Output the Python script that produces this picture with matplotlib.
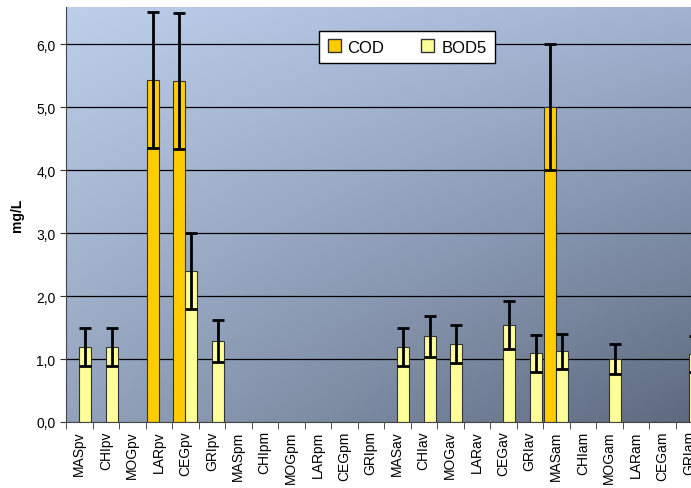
import matplotlib.pyplot as plt
import numpy as np
from matplotlib.patches import Patch

plt.rcParams["font.family"] = ["Liberation Sans", "DejaVu Sans"]

labels = ["MASpv", "CHIpv", "MOGpv", "LARpv", "CEGpv", "GRIpv",
          "MASpm", "CHIpm", "MOGpm", "LARpm", "CEGpm", "GRIpm",
          "MASav", "CHIav", "MOGav", "LARav", "CEGav", "GRIav",
          "MASam", "CHIam", "MOGam", "LARam", "CEGam", "GRIam"]

cod = [0, 0, 0, 5.43, 5.41, 0,
       0, 0, 0, 0, 0, 0,
       0, 0, 0, 0, 0, 0,
       5.0, 0, 0, 0, 0, 0]
cod_err = [0, 0, 0, 1.08, 1.08, 0,
           0, 0, 0, 0, 0, 0,
           0, 0, 0, 0, 0, 0,
           1.0, 0, 0, 0, 0, 0]
bod5 = [1.19, 1.19, 0, 0, 2.40, 1.29,
        0, 0, 0, 0, 0, 0,
        1.19, 1.36, 1.24, 0, 1.54, 1.09,
        1.12, 0, 1.0, 0, 0, 1.08]
bod5_err = [0.3, 0.3, 0, 0, 0.6, 0.33,
            0, 0, 0, 0, 0, 0,
            0.3, 0.33, 0.3, 0, 0.38, 0.29,
            0.28, 0, 0.24, 0, 0, 0.28]

cod = np.array(cod)
bod5 = np.array(bod5)
cod_err = np.array(cod_err)
bod5_err = np.array(bod5_err)
x = np.arange(len(labels))
w = 0.45

fig = plt.figure(figsize=(6.91, 4.89), dpi=100)
ax = fig.add_axes([66 / 691, 1 - 423 / 489, 636 / 691, 415 / 489])

# gradient background: light blue top-left -> slate bottom-right
gx, gy = np.meshgrid(np.linspace(0, 1, 200), np.linspace(0, 1, 200))
tl = np.array([0.74, 0.81, 0.92])
tr = np.array([0.63, 0.70, 0.82])
bl = np.array([0.58, 0.64, 0.74])
br = np.array([0.36, 0.41, 0.49])
gx = gx[..., None]
gy = gy[..., None]
img = (tl * (1 - gx) * (1 - gy) + tr * gx * (1 - gy)
       + bl * (1 - gx) * gy + br * gx * gy)
ax.imshow(img, extent=[0, 1, 0, 1], transform=ax.transAxes, aspect="auto",
          origin="upper", zorder=0)

for v in range(1, 7):
    ax.axhline(v, color="black", lw=0.9, zorder=1)

ax.bar(x - w / 2, cod, w, color="#ffcc00", edgecolor="#333333", lw=0.8, zorder=2)
ax.bar(x + w / 2, bod5, w, color="#ffff99", edgecolor="#333333", lw=0.8, zorder=2)

m = cod > 0
ax.errorbar(x[m] - w / 2, cod[m], yerr=cod_err[m], fmt="none", ecolor="black",
            elinewidth=2, capsize=4.5, capthick=2, zorder=3)
m = bod5 > 0
ax.errorbar(x[m] + w / 2, bod5[m], yerr=bod5_err[m], fmt="none", ecolor="black",
            elinewidth=2, capsize=4.5, capthick=2, zorder=3)

ax.set_xlim(-0.5, len(labels) - 0.5)
ax.set_ylim(0, 6.59)
ax.set_yticks(np.arange(0, 7, 1.0))
ax.set_yticklabels([f"{v:.1f}".replace(".", ",") for v in range(7)], fontsize=10)
ax.set_xticks(x)
ax.set_xticklabels(labels, rotation=90, fontsize=10)
ax.set_xticks(np.arange(-0.5, len(labels), 1), minor=True)
ax.tick_params(axis="x", which="major", length=0, pad=6)
ax.tick_params(axis="x", which="minor", length=5, color="#333333")
ax.tick_params(axis="y", length=4, color="#333333")
ax.set_ylabel("mg/L", fontsize=10, fontweight="bold", labelpad=9)

for s in ["top", "right"]:
    ax.spines[s].set_visible(False)
ax.spines["left"].set_color("#444444")
ax.spines["bottom"].set_color("#444444")

handles = [Patch(facecolor="#ffcc00", edgecolor="#333333", label="COD"),
           Patch(facecolor="#ffff99", edgecolor="#333333", label="BOD5")]
leg = ax.legend(handles=handles, ncol=2, loc="center",
                bbox_to_anchor=((407 - 66) / 636, (423 - 48) / 415),
                fontsize=12, frameon=True, fancybox=False, handlelength=0.8,
                handleheight=0.8, columnspacing=2.2, handletextpad=0.4,
                borderpad=0.5)
leg.get_frame().set_edgecolor("black")
leg.get_frame().set_linewidth(1)
leg.get_frame().set_alpha(1)

fig.savefig("out.png", dpi=100)
